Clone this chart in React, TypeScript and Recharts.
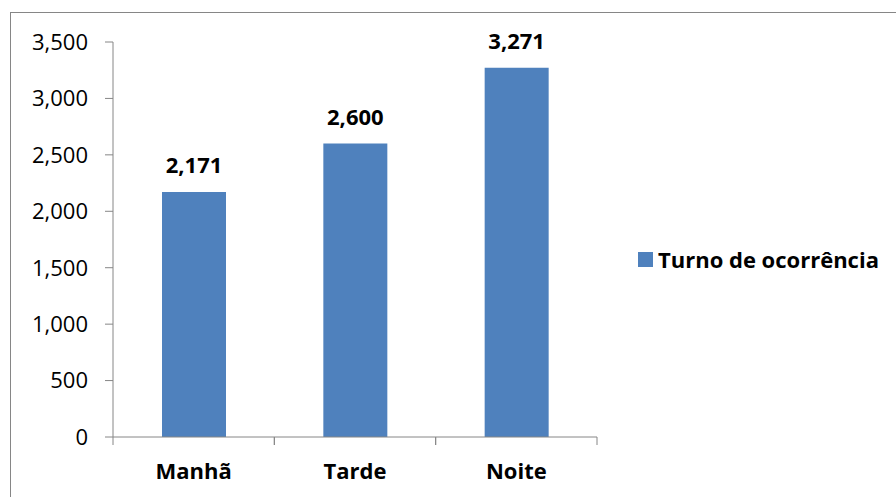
import React from 'react';
import { BarChart, Bar, XAxis, YAxis, Legend, LabelList } from 'recharts';

const categories = ['Manhã', 'Tarde', 'Noite'];
const values = [2171, 2600, 3271];
const yTicks = [0, 500, 1000, 1500, 2000, 2500, 3000, 3500];
const seriesName = 'Turno de ocorrência';

const W = 896;
const H = 497;
const margin = { top: 42, right: 299, bottom: 20, left: 0 };
const yAxisWidth = 113;
const barColor = '#4F81BD';
const axisColor = '#868686';
const font = '"Open Sans", sans-serif';

const data = categories.map((name, i) => ({ name, value: values[i] }));

const fmt = (v: number) => v.toLocaleString('en-US');

// category ticks sit between bars (Excel style), labels in the middle
const XTick = (props: any) => {
  const { x, y, payload } = props;
  const band = (W - margin.left - margin.right - yAxisWidth) / categories.length;
  return (
    <g>
      <line x1={x - band / 2} y1={y} x2={x - band / 2} y2={y + 8} stroke={axisColor} />
      <line x1={x + band / 2} y1={y} x2={x + band / 2} y2={y + 8} stroke={axisColor} />
      <text x={x} y={y + 42} textAnchor="middle" fontWeight="bold" fontSize={22} fill="#000">
        {payload.value}
      </text>
    </g>
  );
};

const LegendBox = () => (
  <div style={{ display: 'flex', alignItems: 'center', fontFamily: font }}>
    <span style={{ width: 15, height: 15, background: barColor, marginRight: 5, display: 'inline-block' }} />
    <span style={{ fontWeight: 'bold', fontSize: 22, color: '#000' }}>{seriesName}</span>
  </div>
);

export default function App() {
  return (
    <div style={{ position: 'absolute', left: 0, top: 0, width: W, height: H, overflow: 'hidden', background: '#fff', fontFamily: font }}>
      <div style={{ position: 'absolute', left: 10, top: 12, width: 920, height: 520, border: `1px solid ${axisColor}` }} />
      <div style={{ position: 'absolute', left: 0, top: 0 }}>
        <BarChart width={W} height={H} data={data} margin={margin}>
          <XAxis
            dataKey="name"
            axisLine={{ stroke: axisColor }}
            tickLine={false}
            tickSize={0}
            tickMargin={0}
            height={40}
            tick={<XTick />}
            interval={0}
          />
          <YAxis
            width={yAxisWidth}
            domain={[0, 3500]}
            ticks={yTicks}
            tickFormatter={fmt}
            axisLine={{ stroke: axisColor }}
            tickLine={{ stroke: axisColor }}
            tickSize={8}
            tickMargin={17}
            tick={{ fill: '#000', fontSize: 22 }}
          />
          <Legend
            layout="vertical"
            align="center"
            verticalAlign="middle"
            content={<LegendBox />}
            wrapperStyle={{ left: 638, top: 244, width: 258 }}
          />
          <Bar dataKey="value" name={seriesName} fill={barColor} barSize={64} isAnimationActive={false}>
            <LabelList dataKey="value" position="top" offset={19} formatter={fmt} fill="#000" fontWeight="bold" fontSize={22} />
          </Bar>
        </BarChart>
      </div>
    </div>
  );
}
